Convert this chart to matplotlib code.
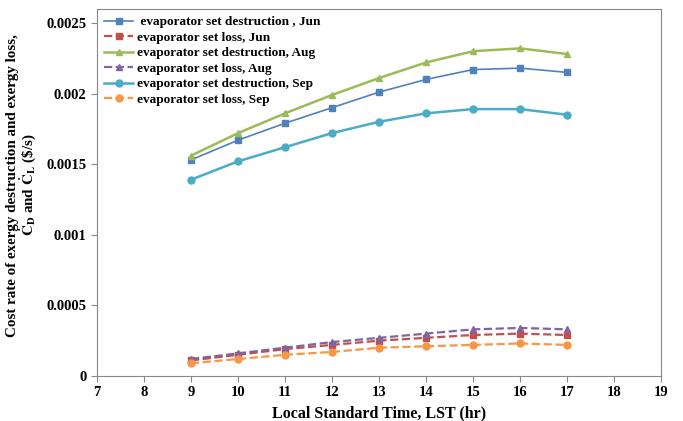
import numpy as np
import matplotlib
matplotlib.use('Agg')
import matplotlib.pyplot as plt
from matplotlib.ticker import FuncFormatter

plt.rcParams['font.family'] = 'Liberation Serif'
plt.rcParams['font.weight'] = 'bold'
plt.rcParams['mathtext.fontset'] = 'stix'

hours = [9, 10, 11, 12, 13, 14, 15, 16, 17]
jun_destruction = [0.00153, 0.00167, 0.00179, 0.00190, 0.00201, 0.00210, 0.00217, 0.00218, 0.00215]
jun_loss = [0.00011, 0.00015, 0.00019, 0.00022, 0.00025, 0.00027, 0.00029, 0.00030, 0.00029]
aug_destruction = [0.00156, 0.00172, 0.00186, 0.00199, 0.00211, 0.00222, 0.00230, 0.00232, 0.00228]
aug_loss = [0.00012, 0.00016, 0.00020, 0.00024, 0.00027, 0.00030, 0.00033, 0.00034, 0.00033]
sep_destruction = [0.00139, 0.00152, 0.00162, 0.00172, 0.00180, 0.00186, 0.00189, 0.00189, 0.00185]
sep_loss = [0.00009, 0.00012, 0.00015, 0.00017, 0.00020, 0.00021, 0.00022, 0.00023, 0.00022]

fig = plt.figure(figsize=(6.83, 4.21), dpi=100)
ax = fig.add_axes([0.142, 0.107, 0.826, 0.872])

ax.plot(hours, jun_destruction, '-s', color='#4F81BD', lw=1.2, ms=4.5, label=' evaporator set destruction , Jun')
ax.plot(hours, jun_loss, '--s', color='#C0504D', lw=1.6, ms=4.5, label='evaporator set loss, Jun')
ax.plot(hours, aug_destruction, '-^', color='#9BBB59', lw=1.8, ms=5, label='evaporator set destruction, Aug')
ax.plot(hours, aug_loss, '--^', color='#8064A2', lw=1.6, ms=5, label='evaporator set loss, Aug')
ax.plot(hours, sep_destruction, '-o', color='#4BACC6', lw=1.8, ms=5, label='evaporator set destruction, Sep')
ax.plot(hours, sep_loss, '--o', color='#F79646', lw=1.6, ms=5, label='evaporator set loss, Sep')

ax.set_xlim(7, 19)
ax.set_ylim(0, 0.0026)
ax.set_xticks(range(7, 20))
ax.set_yticks([0, 0.0005, 0.001, 0.0015, 0.002, 0.0025])
ax.yaxis.set_major_formatter(FuncFormatter(lambda v, p: '%g' % v))
ax.tick_params(labelsize=10.5, length=4, color='#888888', direction='out')
for s in ax.spines.values():
    s.set_color('#888888')

ax.set_xlabel('Local Standard Time, LST (hr)', fontsize=11.5, fontweight='bold')
ax.set_ylabel('Cost rate of exergy destruction and exergy loss,\n$\\dot{\\mathbf{C}}_{\\mathbf{D}}$ and $\\dot{\\mathbf{C}}_{\\mathbf{L}}$ (\\$/s)',
              fontsize=10.8, fontweight='bold', linespacing=1.0)
ax.yaxis.set_label_coords(-0.103, 0.52)

ax.legend(loc='upper left', frameon=False, fontsize=9.5, handlelength=2.2,
          borderaxespad=0.15, labelspacing=0.25, handletextpad=0.3)

fig.savefig('out.png', dpi=100)
